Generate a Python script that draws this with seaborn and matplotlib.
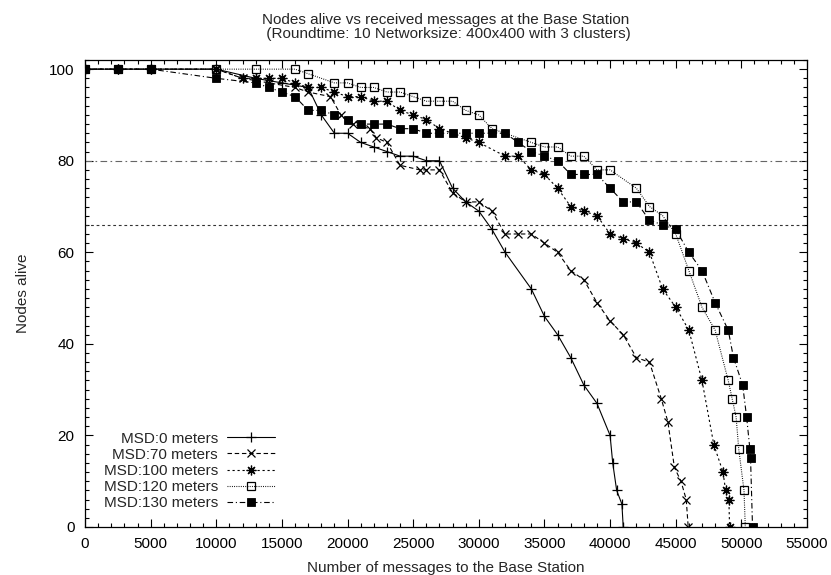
import numpy as np
import pandas as pd
import matplotlib
matplotlib.use("Agg")
import matplotlib.pyplot as plt
import seaborn as sns
from matplotlib.ticker import MultipleLocator

# ---------------- data ----------------
msd0_x = [0, 2500, 5000, 10000, 13000, 15000, 17000, 18000, 19000, 20000, 21000, 22000, 23000,
          24000, 25000, 26000, 27000, 28000, 29000, 30000, 31000, 32000, 34000, 35000, 36000,
          37000, 38000, 39000, 40000, 40200, 40500, 40900, 41000]
msd0_y = [100, 100, 100, 100, 98, 97, 96, 90, 86, 86, 84, 83, 82,
          81, 81, 80, 80, 74, 71, 69, 65, 60, 52, 46, 42,
          37, 31, 27, 20, 14, 8, 5, 0]

msd70_x = [0, 2500, 5000, 10000, 12000, 14000, 16000, 17000, 18700, 19500, 20400, 21700, 22200,
           23000, 24000, 25500, 26000, 27000, 28000, 29000, 30000, 31000, 32000, 33000, 34000,
           35000, 36000, 37000, 38000, 39000, 40000, 41000, 42000, 43000, 43900, 44400, 44900,
           45400, 45800, 45950]
msd70_y = [100, 100, 100, 100, 98, 97, 96, 95, 94, 90, 88, 87, 85,
           84, 79, 78, 78, 78, 73, 71, 71, 69, 64, 64, 64,
           62, 60, 56, 54, 49, 45, 42, 37, 36, 28, 23, 13,
           10, 6, 0]

msd100_x = [0, 2500, 5000, 10000, 12000, 13000, 14000, 15000, 16000, 17000, 18000, 19000, 20000,
            21000, 22000, 23000, 24000, 25000, 26000, 27000, 29000, 30000, 32000, 33000, 34000,
            35000, 36000, 37000, 38000, 39000, 40000, 41000, 42000, 43000, 44000, 45000, 46000,
            47000, 47900, 48600, 48800, 49050, 49100]
msd100_y = [100, 100, 100, 100, 98, 98, 98, 98, 97, 96, 96, 95, 94,
            94, 93, 93, 91, 90, 89, 87, 85, 84, 81, 81, 78,
            77, 74, 70, 69, 68, 64, 63, 62, 60, 52, 48, 43,
            32, 18, 12, 8, 6, 0]

msd120_x = [0, 2500, 5000, 10000, 13000, 16000, 17000, 19000, 20000, 21000, 22000, 23000, 24000,
            25000, 26000, 27000, 28000, 29000, 30000, 31000, 34000, 35000, 36000, 37000, 38000,
            39000, 40000, 42000, 43000, 44000, 45000, 46000, 47000, 48000, 49000, 49300, 49600,
            49800, 50200, 50300]
msd120_y = [100, 100, 100, 100, 100, 100, 99, 97, 97, 96, 96, 95, 95,
            94, 93, 93, 93, 91, 90, 87, 84, 83, 83, 81, 81,
            78, 78, 74, 70, 68, 64, 56, 48, 43, 32, 28, 24,
            17, 8, 0]

msd130_x = [0, 2500, 5000, 10000, 13000, 14000, 15000, 16000, 17000, 18000, 19000, 20000, 21000,
            22000, 23000, 24000, 25000, 26000, 27000, 28000, 29000, 30000, 31000, 32000, 33000,
            34000, 35000, 36000, 37000, 38000, 39000, 40000, 41000, 42000, 43000, 44000, 45000,
            46000, 47000, 48000, 49000, 49400, 50100, 50400, 50650, 50700, 50850]
msd130_y = [100, 100, 100, 98, 97, 96, 95, 94, 91, 91, 90, 89, 88,
            88, 88, 87, 87, 86, 86, 86, 86, 86, 86, 86, 84,
            82, 81, 80, 77, 77, 77, 74, 71, 71, 67, 66, 65,
            60, 56, 49, 43, 37, 31, 24, 17, 15, 0]

series_labels = ["MSD:0 meters", "MSD:70 meters", "MSD:100 meters", "MSD:120 meters", "MSD:130 meters"]
ref_levels = [80, 66]
title_text = "Nodes alive vs received messages at the Base Station\n (Roundtime: 10 Networksize: 400x400 with 3 clusters)"
x_label = "Number of messages to the Base Station"
y_label = "Nodes alive"

# ---------------- style ----------------
FS = 11
sns.set_style("ticks")
plt.rcParams["font.family"] = ["Liberation Sans", "DejaVu Sans"]
plt.rcParams["font.size"] = FS
plt.rcParams["axes.linewidth"] = 0.9

fig = plt.figure(figsize=(8.31, 5.75), dpi=100)
ax = fig.add_axes([85 / 831, 48 / 575, 722 / 831, 467 / 575])

frames = [
    pd.DataFrame({"x": msd0_x, "y": msd0_y}),
    pd.DataFrame({"x": msd70_x, "y": msd70_y}),
    pd.DataFrame({"x": msd100_x, "y": msd100_y}),
    pd.DataFrame({"x": msd120_x, "y": msd120_y}),
    pd.DataFrame({"x": msd130_x, "y": msd130_y}),
]
styles = [
    dict(linestyle="-", marker="+", markersize=7, mec="black", mfc="black", mew=0.9),
    dict(linestyle=(0, (4, 2.5)), marker="x", markersize=5.5, mec="black", mfc="black", mew=0.9),
    dict(linestyle=(0, (2, 2.5)), marker=(8, 2, 0), markersize=7, mec="black", mfc="black", mew=0.9),
    dict(linestyle=(0, (0.8, 1.2)), marker="s", markersize=5.6, mec="black", mfc="none", mew=0.9),
    dict(linestyle=(0, (5, 2.5, 1, 2.5)), marker="s", markersize=5.9, mec="black", mfc="black", mew=0.6),
]

# reference lines
ax.axhline(ref_levels[0], color="#666666", lw=0.8, linestyle=(0, (6, 3, 1.5, 3)), zorder=1)
ax.axhline(ref_levels[1], color="#333333", lw=0.8, linestyle=(0, (2.5, 2.5)), zorder=1)

for df, lab, st in zip(frames, series_labels, styles):
    sns.lineplot(data=df, x="x", y="y", ax=ax, color="black", lw=0.8, label=lab,
                 estimator=None, sort=False, **st)

ax.set_xlim(0, 55000)
ax.set_ylim(0, 102)
ax.xaxis.set_major_locator(MultipleLocator(5000))
ax.xaxis.set_minor_locator(MultipleLocator(1000))
ax.yaxis.set_major_locator(MultipleLocator(20))
ax.yaxis.set_minor_locator(MultipleLocator(2))
ax.tick_params(which="both", direction="in", top=True, right=True, colors="black",
               labelsize=FS)
ax.tick_params(which="major", length=6, width=0.8, pad=7.5)
ax.tick_params(which="minor", length=3, width=0.8)
for s in ax.spines.values():
    s.set_visible(True)
    s.set_color("black")

ax.set_xlabel(x_label, fontsize=FS, labelpad=7)
ax.set_ylabel(y_label, fontsize=FS, labelpad=14)
ax.set_title(title_text, fontsize=FS, pad=15.5, linespacing=1.05)

leg = ax.legend(loc="lower right", bbox_to_anchor=(0.271, 0.023), frameon=False,
                markerfirst=False, handlelength=3.1, handletextpad=0.6,
                labelspacing=0.14, fontsize=FS, borderaxespad=0)

fig.savefig("out.png", dpi=100)
